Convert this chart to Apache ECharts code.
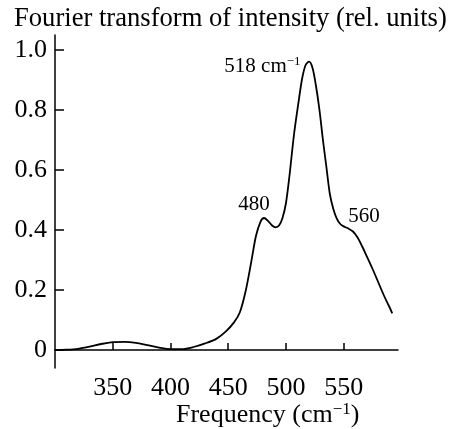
<!DOCTYPE html>
<html><head><meta charset="utf-8">
<script src="https://cdn.jsdelivr.net/npm/echarts@6/dist/echarts.min.js"></script>
<style>html,body{margin:0;padding:0;background:#fff}#c{width:450px;height:429px}</style>
</head><body><div id="c"></div>
<script>
const freq = [300,310,320,330,340,350,360,370,380,390,400,410,420,430,440,448,455,460,465,470,474,478,481,484,488,491,494,497,500,503,507,511,514,517,520,523,526,529,532,535,538,541,544,547,550,554,558,562,566,570,575,580,585,590,592];
const intensity = [0.000,0.001,0.004,0.011,0.020,0.026,0.027,0.024,0.016,0.008,0.003,0.003,0.010,0.022,0.038,0.062,0.092,0.125,0.195,0.295,0.380,0.428,0.440,0.432,0.415,0.409,0.415,0.440,0.490,0.580,0.720,0.830,0.905,0.950,0.961,0.940,0.880,0.800,0.700,0.610,0.520,0.470,0.438,0.420,0.412,0.405,0.395,0.375,0.345,0.312,0.270,0.225,0.180,0.140,0.122];
const xTicks = [350,400,450,500,550];
const yTicks = [0,0.2,0.4,0.6,0.8,1.0];
const peakLabels = [
  {x:520, y:0.961, text:'{n|518 cm}{s|−1}'},
  {x:481, y:0.440, text:'{n|480}'},
  {x:558, y:0.395, text:'{n|560}'}
];
const FONT = '"Liberation Serif","Times New Roman",serif';
const chart = echarts.init(document.getElementById('c'));
const rich = {n:{fontFamily:FONT,fontSize:21,color:'#000'},s:{fontFamily:FONT,fontSize:13,color:'#000',verticalAlign:'top',padding:[0,0,10,0]}};
const hidden = {color:'rgba(0,0,0,0)'};
chart.setOption({
  animation:false,
  grid:{left:55,right:52,top:35,bottom:61},
  xAxis:{type:'value',min:300,max:597,
    axisLine:{lineStyle:{color:'#000',width:1.5}},
    axisTick:{inside:true,length:7,customValues:xTicks,lineStyle:{color:'#000',width:1.5}},
    axisLabel:{customValues:xTicks,fontFamily:FONT,fontSize:26,color:'#000',margin:7},
    splitLine:{show:false}},
  yAxis:{type:'value',min:-0.06,max:1.05,
    axisLine:{show:true,lineStyle:{color:'#000',width:1.5}},
    axisTick:{show:true,inside:true,length:9,customValues:yTicks,lineStyle:{color:'#000',width:1.5}},
    axisLabel:{customValues:yTicks,fontFamily:FONT,fontSize:26,color:'#000',margin:8,
      formatter:v=>Math.abs(v)<1e-9?'0':v.toFixed(1)},
    splitLine:{show:false}},
  graphic:[
    {type:'text',left:14,top:6,style:{text:'Fourier transform of intensity (rel. units)',font:'26.6px '+FONT,fill:'#000'}},
    {type:'text',left:176,top:401,style:{rich:{n:{fontFamily:FONT,fontSize:26,color:'#000'},s:{fontFamily:FONT,fontSize:17,color:'#000',verticalAlign:'top',padding:[0,0,12,0]}},text:'{n|Frequency (cm}{s|−1}{n|)}'}}
  ],
  series:[{type:'line',data:freq.map((f,i)=>[f,intensity[i]]),smooth:0.3,symbol:'none',
    lineStyle:{color:'#000',width:1.8},
    markPoint:{symbol:'circle',symbolSize:1,itemStyle:hidden,data:[
      {coord:[peakLabels[0].x,peakLabels[0].y],label:{show:true,formatter:peakLabels[0].text,rich,position:'left',distance:5,offset:[-3,5]}},
      {coord:[peakLabels[1].x,peakLabels[1].y],label:{show:true,formatter:peakLabels[1].text,rich,position:'top',distance:5,offset:[-10,2]}},
      {coord:[peakLabels[2].x,peakLabels[2].y],label:{show:true,formatter:peakLabels[2].text,rich,position:'top',distance:5,offset:[11,1]}}
    ]}}]
});
</script></body></html>
